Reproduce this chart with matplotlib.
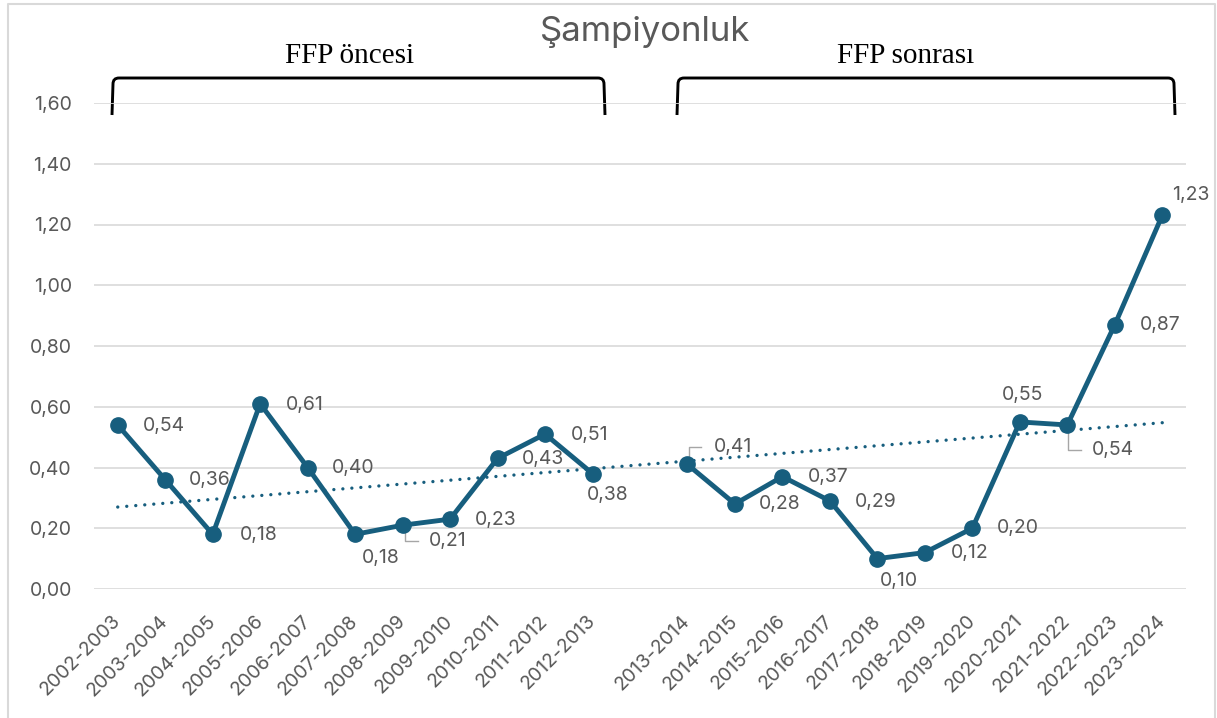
import numpy as np
import matplotlib
matplotlib.use("Agg")
import matplotlib.pyplot as plt
from matplotlib.path import Path
from matplotlib.patches import PathPatch

# ---------------- data ----------------
seasons = ["2002-2003", "2003-2004", "2004-2005", "2005-2006", "2006-2007",
           "2007-2008", "2008-2009", "2009-2010", "2010-2011", "2011-2012",
           "2012-2013", "",
           "2013-2014", "2014-2015", "2015-2016", "2016-2017", "2017-2018",
           "2018-2019", "2019-2020", "2020-2021", "2021-2022", "2022-2023",
           "2023-2024"]
values = [0.54, 0.36, 0.18, 0.61, 0.40, 0.18, 0.21, 0.23, 0.43, 0.51, 0.38,
          np.nan,
          0.41, 0.28, 0.37, 0.29, 0.10, 0.12, 0.20, 0.55, 0.54, 0.87, 1.23]
yticks = [0.0, 0.2, 0.4, 0.6, 0.8, 1.0, 1.2, 1.4, 1.6]
title = "Şampiyonluk"
group_labels = ["FFP öncesi", "FFP sonrası"]

# ---------------- styles ----------------
LINE = "#175E7E"
GRID = "#D9D9D9"
TXT = "#595959"
FONT = "Inter"
FS = 14
# label offsets (pixels, y up) per point
label_offsets = [(46, -1), (45, 0), (46, -1), (45, -1), (46, -1), (26, -24),
                 (45, -16), (46, -1), (45, -1), (45, -1), (15, -21), None,
                 (46, 17), (45, 0), (46, 0), (46, -1), (22, -22), (45, 0),
                 (46, 0), (3, 27), (46, -25), (45, 0), (28, 20)]
leaders = {6: [(2, -3), (2, -16), (15, -16)],
           12: [(2, 4), (2, 17), (14, 17)],
           20: [(1, -3), (1, -25), (14, -25)]}

W, H = 1217, 718
fig = plt.figure(figsize=(W / 100, H / 100), dpi=100)

# overlay for frame / brackets (pixel coordinates, origin top-left)
ov = fig.add_axes([0, 0, 1, 1], zorder=0)
ov.set_xlim(0, W)
ov.set_ylim(H, 0)
ov.axis("off")

ax = fig.add_axes([94 / W, (H - 589) / H, (1186 - 94) / W, (589 - 103) / H], zorder=1)
ax.patch.set_alpha(0)

x = np.arange(len(values))
y = np.array(values, dtype=float)

ax.set_xlim(-0.5, len(values) - 0.5)
ax.set_ylim(0, 1.6)
ax.set_yticks(yticks)
ax.set_yticklabels([f"{v:.2f}".replace(".", ",") for v in yticks])
ax.set_xticks(x)
ax.set_xticklabels(seasons, rotation=45, ha="right", va="center",
                   rotation_mode="anchor")
ax.tick_params(axis="both", length=0, colors=TXT, labelsize=FS)
ax.tick_params(axis="y", pad=16)
ax.tick_params(axis="x", pad=21)
for lab in ax.get_xticklabels() + ax.get_yticklabels():
    lab.set_fontfamily(FONT)
for s in ax.spines.values():
    s.set_visible(False)
ax.grid(axis="y", color=GRID, lw=1.2)
ax.set_axisbelow(True)

# main line
ax.plot(x, y, color=LINE, lw=3.5, marker="o", ms=11, zorder=4,
        solid_joinstyle="round")

# linear trendline
mask = ~np.isnan(y)
k, b = np.polyfit(x[mask], y[mask], 1)
ax.plot([x[0], x[-1]], [k * x[0] + b, k * x[-1] + b], color=LINE, lw=2.4,
        linestyle=(0, (0.01, 2.7)), dash_capstyle="round", zorder=3)

# data labels
for i, (xi, yi) in enumerate(zip(x, y)):
    if np.isnan(yi):
        continue
    dx, dy = label_offsets[i]
    ax.annotate(f"{yi:.2f}".replace(".", ","), (xi, yi), xytext=(dx, dy),
                textcoords="offset pixels", ha="center", va="center",
                fontsize=FS, color=TXT, family=FONT, zorder=5)

# leader lines (in display pixels)
fig.canvas.draw()
for i, pts in leaders.items():
    px, py = ax.transData.transform((x[i], y[i]))
    xs = [px + p[0] for p in pts]
    ys = [py + p[1] for p in pts]
    ax.plot(xs, ys, transform=None, color="#A6A6A6", lw=1.0, zorder=3.5)

# title
ov.text(645, 32, title, ha="center", va="center", fontsize=25, color=TXT,
        family=FONT)

# chart frame
ov.plot([8, 8, 1215, 1215], [H + 5, 4, 4, H + 5], color=GRID, lw=1.5)


def bracket(x0, x1, ytop, ybot, r=6):
    verts = [(x0, ybot), (x0 + 1, ytop + r), (x0 + 1, ytop), (x0 + 1 + r, ytop),
             (x1 - 1 - r, ytop), (x1 - 1, ytop), (x1 - 1, ytop + r), (x1, ybot)]
    codes = [Path.MOVETO, Path.LINETO, Path.CURVE3, Path.CURVE3,
             Path.LINETO, Path.CURVE3, Path.CURVE3, Path.LINETO]
    ov.add_patch(PathPatch(Path(verts, codes), fill=False, lw=2.1,
                           edgecolor="black", capstyle="butt"))


bracket(112, 605, 78, 115)
bracket(677, 1175, 78, 115)
ov.text(350, 56, group_labels[0], ha="center", va="center", fontsize=21,
        family="Liberation Serif", color="black")
ov.text(906, 56, group_labels[1], ha="center", va="center", fontsize=21,
        family="Liberation Serif", color="black")

fig.savefig("out.png", dpi=100)
